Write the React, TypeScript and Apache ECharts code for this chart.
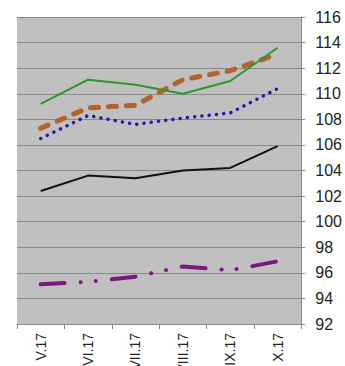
import React, { useEffect, useRef } from "react";
import * as echarts from "echarts";

const categories = ["V.17", "VI.17", "VII.17", "VIII.17", "IX.17", "X.17"];
const greenValues = [109.2, 111.1, 110.7, 110.0, 111.0, 113.6];
const orangeValues = [107.3, 108.9, 109.1, 111.1, 111.8, 113.1];
const blueValues = [106.5, 108.3, 107.6, 108.1, 108.5, 110.4];
const blackValues = [102.4, 103.6, 103.4, 104.0, 104.2, 105.9];
const purpleValues = [95.1, 95.3, 95.7, 96.5, 96.2, 96.9];
const yMin = 92;
const yMax = 116;
const yStep = 2;

export default function App() {
  const ref = useRef<HTMLDivElement>(null);
  useEffect(() => {
    if (!ref.current) return;
    const chart = echarts.init(ref.current, undefined, { renderer: "svg" });
    const font = "'Liberation Sans', Arial, sans-serif";
    chart.setOption({
      animation: false,
      backgroundColor: "#ffffff",
      grid: {
        left: 17,
        right: 42,
        top: 17,
        bottom: 76,
        show: true,
        backgroundColor: "#c0c0c0",
        borderWidth: 0,
      },
      xAxis: {
        type: "category",
        data: categories,
        boundaryGap: true,
        axisLine: { show: true, lineStyle: { color: "#8a8a8a", width: 1 } },
        axisTick: { show: true, length: 5, lineStyle: { color: "#8a8a8a" } },
        axisLabel: {
          rotate: 90,
          fontSize: 14,
          margin: 9,
          color: "#222222",
          fontFamily: font,
        },
        splitLine: { show: false },
      },
      yAxis: {
        type: "value",
        position: "right",
        min: yMin,
        max: yMax,
        interval: yStep,
        axisLine: { show: true, lineStyle: { color: "#8a8a8a", width: 1 } },
        axisTick: { show: true, length: 4, lineStyle: { color: "#8a8a8a" } },
        axisLabel: {
          fontSize: 16,
          margin: 14,
          color: "#222222",
          fontFamily: font,
        },
        splitLine: { show: true, lineStyle: { color: "#8a8a8a", width: 1 } },
      },
      series: [
        {
          type: "line",
          data: purpleValues,
          showSymbol: false,
          lineStyle: {
            color: "#7a1a7a",
            width: 4,
            type: [24, 16, 0.1, 15, 0.1, 16],
            cap: "round",
          },
        },
        {
          type: "line",
          data: blackValues,
          showSymbol: false,
          lineStyle: { color: "#111111", width: 2 },
        },
        {
          type: "line",
          data: blueValues,
          showSymbol: false,
          lineStyle: {
            color: "#1c1cb0",
            width: 3.5,
            type: [0.1, 7.2],
            cap: "round",
          },
        },
        {
          type: "line",
          data: orangeValues,
          showSymbol: false,
          lineStyle: {
            color: "#b5622c",
            width: 5,
            type: [8, 10],
            cap: "round",
          },
        },
        {
          type: "line",
          data: greenValues,
          showSymbol: false,
          lineStyle: { color: "#2e962e", width: 2 },
        },
      ],
    });
    return () => chart.dispose();
  }, []);
  return (
    <div
      style={{
        position: "fixed",
        left: 0,
        top: 0,
        width: 345,
        height: 366,
        overflow: "hidden",
        background: "#ffffff",
      }}
    >
      <div ref={ref} style={{ width: 345, height: 400 }} />
    </div>
  );
}
